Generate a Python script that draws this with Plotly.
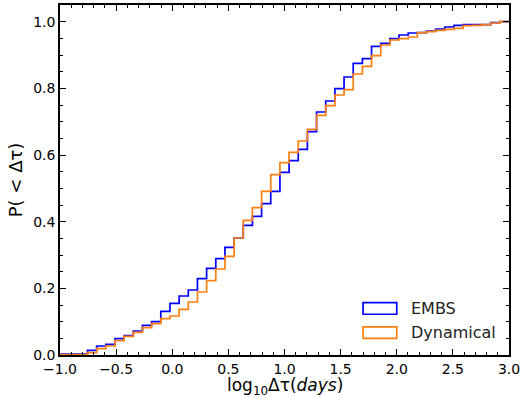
import numpy as np
import plotly.graph_objects as go

# Bin edges of the cumulative histograms (49 bins between -1 and 3)
bin_lo, bin_hi, n_bins = -1.0, 3.0, 49
edges = np.linspace(bin_lo, bin_hi, n_bins + 1)

# Cumulative fraction at each bin
embs_cdf = [0.003, 0.003, 0.003, 0.014, 0.027, 0.032, 0.049, 0.058, 0.072, 0.089,
            0.100, 0.131, 0.155, 0.177, 0.195, 0.229, 0.260, 0.289, 0.323, 0.351,
            0.389, 0.416, 0.454, 0.491, 0.548, 0.583, 0.617, 0.670, 0.729, 0.762,
            0.799, 0.834, 0.875, 0.889, 0.926, 0.935, 0.949, 0.960, 0.966, 0.967,
            0.972, 0.978, 0.984, 0.989, 0.991, 0.991, 0.991, 0.997, 1.000]
dyn_cdf = [0.001, 0.001, 0.001, 0.007, 0.019, 0.027, 0.043, 0.056, 0.068, 0.082,
           0.094, 0.109, 0.117, 0.137, 0.159, 0.189, 0.223, 0.258, 0.296, 0.351,
           0.404, 0.442, 0.491, 0.541, 0.577, 0.608, 0.642, 0.677, 0.719, 0.748,
           0.780, 0.796, 0.843, 0.866, 0.898, 0.930, 0.945, 0.949, 0.954, 0.967,
           0.970, 0.974, 0.977, 0.980, 0.988, 0.989, 0.991, 0.996, 1.000]

series_names = ["EMBS", "Dynamical"]
series_colors = ["#0000ff", "#ff7f0e"]

x_ticks = [-1.0, -0.5, 0.0, 0.5, 1.0, 1.5, 2.0, 2.5, 3.0]
y_ticks = [0.0, 0.2, 0.4, 0.6, 0.8, 1.0]

fig = go.Figure()
for name, vals, col in zip(series_names, [embs_cdf, dyn_cdf], series_colors):
    fig.add_trace(go.Scatter(
        x=list(edges), y=list(vals) + [vals[-1]],
        mode="lines", line=dict(color=col, width=1.7, shape="hv"),
        name=name, showlegend=False,
    ))

font = "DejaVu Sans, Verdana, sans-serif"
axis_common = dict(
    showline=True, linecolor="black", linewidth=1.5, mirror="allticks",
    ticks="inside", ticklen=6, tickwidth=1.2, tickcolor="black",
    showgrid=False, zeroline=False, ticklabeloverflow="allow", automargin=False,
    tickfont=dict(family=font, size=14, color="black"),
)
fig.update_xaxes(
    range=[-1, 3], tickvals=x_ticks, ticktext=[f"{v:.1f}".replace("-", "\u2212") for v in x_ticks],
    minor=dict(dtick=0.1, tick0=0, ticks="inside", ticklen=3, tickwidth=1, tickcolor="black"),
    **axis_common,
)
fig.update_yaxes(
    range=[0, 1.05], tickvals=y_ticks, ticktext=[f"{v:.1f}" for v in y_ticks],
    minor=dict(dtick=0.05, tick0=0, ticks="inside", ticklen=3, tickwidth=1, tickcolor="black"),
    title=dict(text="P( < \u0394\u03c4)", font=dict(family=font, size=18, color="black"), standoff=6),
    **axis_common,
)

# x-axis title as an annotation under the tick labels
fig.add_annotation(xref="paper", yref="paper", x=0.5, y=-0.089,
                   text="log<sub>10</sub>\u0394\u03c4(<i>days</i>)", showarrow=False,
                   xanchor="center", yanchor="middle",
                   font=dict(family=font, size=17, color="black"))

# Legend drawn as outlined rectangles with labels (bottom right)
legend_y = [0.133, 0.064]
for name, col, ly in zip(series_names, series_colors, legend_y):
    fig.add_shape(type="rect", xref="paper", yref="paper",
                  x0=0.675, x1=0.750, y0=ly - 0.0165, y1=ly + 0.0165,
                  line=dict(color=col, width=1.7), fillcolor="rgba(0,0,0,0)")
    fig.add_annotation(xref="paper", yref="paper", x=0.777, y=ly, text=name,
                       showarrow=False, xanchor="left", yanchor="middle",
                       font=dict(family=font, size=16, color="#222222"))

fig.update_layout(
    width=520, height=398,
    margin=dict(l=60, r=11, t=5, b=43),
    paper_bgcolor="white", plot_bgcolor="white",
    showlegend=False,
)
fig.write_html("out.html")
